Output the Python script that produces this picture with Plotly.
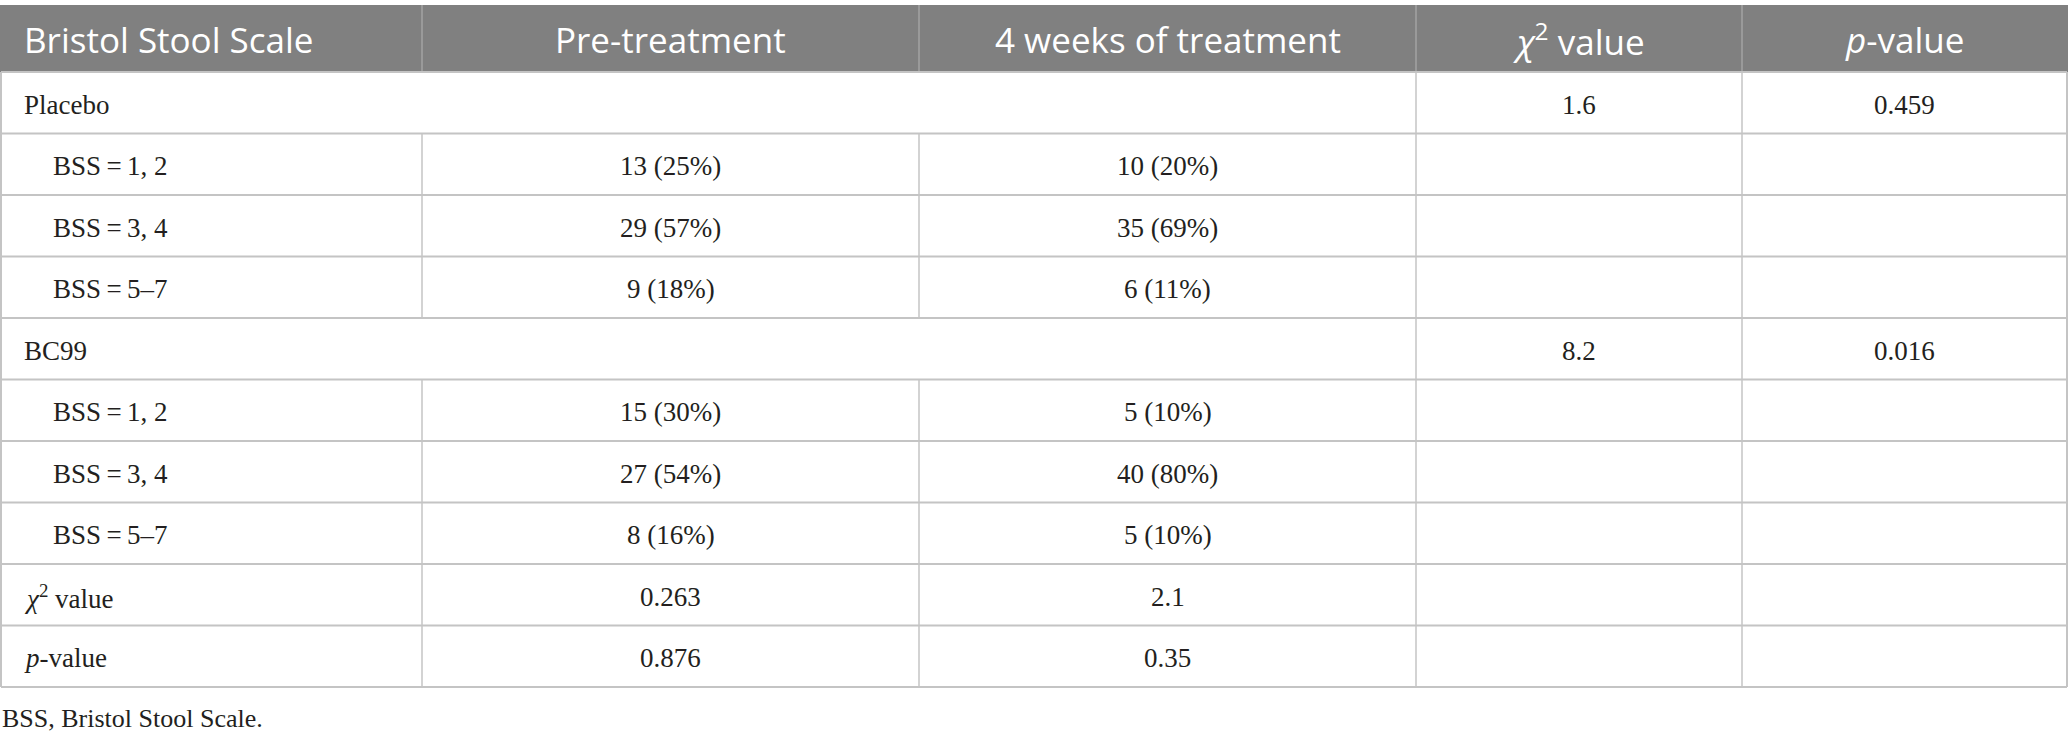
import plotly.graph_objects as go

# ---------------- data ----------------
header = ["Bristol Stool Scale", "Pre-treatment", "4 weeks of treatment",
          "<i>χ</i><sup>2</sup> value", "<i>p</i>-value"]
groups = ["Placebo", "BC99"]
bss_labels = ["BSS\u2009=\u20091, 2", "BSS\u2009=\u20093, 4", "BSS\u2009=\u20095–7"]

placebo_pre_n = [13, 29, 9]
placebo_pre_pct = [25, 57, 18]
placebo_4w_n = [10, 35, 6]
placebo_4w_pct = [20, 69, 11]

bc99_pre_n = [15, 27, 8]
bc99_pre_pct = [30, 54, 16]
bc99_4w_n = [5, 40, 5]
bc99_4w_pct = [10, 80, 10]

group_chi2 = ["1.6", "8.2"]
group_p = ["0.459", "0.016"]

time_chi2 = ["0.263", "2.1"]
time_p = ["0.876", "0.35"]

footnote = "BSS, Bristol Stool Scale."

# ---------------- layout constants ----------------
W, H = 2068, 739
col_edges = [1, 422, 919, 1416, 1742, 2067]
header_top, header_bot = 5, 72
row_h = 61.5
grid_col = "#c4c4c4"
head_fill = "#808080"
serif = "Liberation Serif, Times New Roman, serif"
sans = "Open Sans, Noto Sans, sans-serif"
body_size = 27
head_size = 35
text_col = "#231f20"

# build row records
rows = []
pre_n = [placebo_pre_n, bc99_pre_n]
pre_p = [placebo_pre_pct, bc99_pre_pct]
w4_n = [placebo_4w_n, bc99_4w_n]
w4_p = [placebo_4w_pct, bc99_4w_pct]
for g in range(len(groups)):
    rows.append(dict(kind="group", label=groups[g], chi=group_chi2[g], p=group_p[g]))
    for i, lab in enumerate(bss_labels):
        rows.append(dict(kind="bss", label=lab,
                         pre=f"{pre_n[g][i]} ({pre_p[g][i]}%)",
                         w4=f"{w4_n[g][i]} ({w4_p[g][i]}%)"))
rows.append(dict(kind="stat", label="<i>χ</i><sup>2</sup> value", pre=time_chi2[0], w4=time_chi2[1]))
rows.append(dict(kind="stat", label="<i>p</i>-value", pre=time_p[0], w4=time_p[1]))

shapes = []
annotations = []

# header
shapes.append(dict(type="rect", xref="x", yref="y", x0=col_edges[0] - 1, x1=col_edges[-1] + 1,
                   y0=header_top, y1=header_bot, fillcolor=head_fill,
                   line=dict(width=0), layer="below"))
for k in range(1, len(col_edges) - 1):
    shapes.append(dict(type="line", xref="x", yref="y", x0=col_edges[k], x1=col_edges[k],
                       y0=header_top, y1=header_bot, line=dict(color="#a3a3a3", width=1.5)))
for k, txt in enumerate(header):
    if k == 0:
        x, anc = col_edges[0] + 21, "left"
    else:
        x, anc = (col_edges[k] + col_edges[k + 1]) / 2, "center"
    annotations.append(dict(x=x, y=(header_top + header_bot) / 2 + 1, xref="x", yref="y",
                            text=txt, showarrow=False, xanchor=anc, yanchor="middle",
                            font=dict(family=sans, size=head_size, color="white")))

n = len(rows)
table_bot = header_bot + n * row_h
# horizontal grid lines
for r in range(n + 1):
    y = header_bot + r * row_h
    shapes.append(dict(type="line", xref="x", yref="y", x0=col_edges[0], x1=col_edges[-1],
                       y0=y, y1=y, line=dict(color=grid_col, width=2)))
# outer verticals
for xe in (col_edges[0], col_edges[-1]):
    shapes.append(dict(type="line", xref="x", yref="y", x0=xe, x1=xe,
                       y0=header_bot, y1=table_bot, line=dict(color=grid_col, width=2)))

for r, row in enumerate(rows):
    y0 = header_bot + r * row_h
    y1 = y0 + row_h
    yc = (y0 + y1) / 2 + 2
    inner = [3, 4] if row["kind"] == "group" else [1, 2, 3, 4]
    for k in inner:
        shapes.append(dict(type="line", xref="x", yref="y", x0=col_edges[k], x1=col_edges[k],
                           y0=y0, y1=y1, line=dict(color=grid_col, width=1.5)))
    indent = 50 if row["kind"] == "bss" else 21
    annotations.append(dict(x=col_edges[0] + indent, y=yc, xref="x", yref="y", text=row["label"],
                            showarrow=False, xanchor="left", yanchor="middle",
                            font=dict(family=serif, size=body_size, color=text_col)))
    if row["kind"] == "group":
        cells = [(3, row["chi"]), (4, row["p"])]
    else:
        cells = [(1, row["pre"]), (2, row["w4"])]
    for k, txt in cells:
        annotations.append(dict(x=(col_edges[k] + col_edges[k + 1]) / 2, y=yc, xref="x", yref="y",
                                text=txt, showarrow=False, xanchor="center", yanchor="middle",
                                font=dict(family=serif, size=body_size, color=text_col)))

annotations.append(dict(x=0, y=table_bot + 31, xref="x", yref="y", text=footnote,
                        showarrow=False, xanchor="left", yanchor="middle",
                        font=dict(family=serif, size=body_size - 1, color=text_col)))

fig = go.Figure()
fig.update_layout(
    width=W, height=H, margin=dict(l=0, r=0, t=0, b=0),
    paper_bgcolor="white", plot_bgcolor="white",
    xaxis=dict(range=[0, W], visible=False, fixedrange=True),
    yaxis=dict(range=[H, 0], visible=False, fixedrange=True),
    shapes=shapes, annotations=annotations, showlegend=False,
)
fig.write_html("out.html", config=dict(displayModeBar=False),
               post_script="document.body.style.margin='0';document.body.style.overflow='hidden';")
